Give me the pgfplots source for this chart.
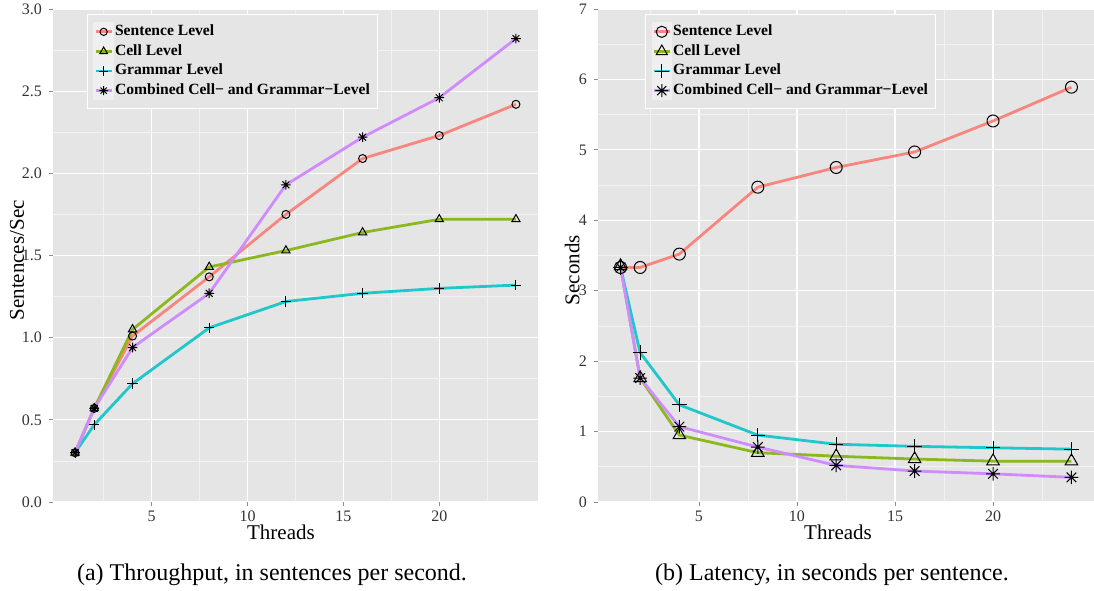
\documentclass[border=0pt]{standalone}
\usepackage{pgfplots}
\usepackage{pgfplotstable}
\pgfplotsset{compat=1.18}
\usepackage{fontspec}
\setmainfont{Liberation Serif}

\definecolor{panel}{HTML}{E5E5E5}
\definecolor{minorg}{HTML}{F2F2F2}
\definecolor{keybg}{HTML}{EFEFEF}
\definecolor{cS}{HTML}{F8766D}
\definecolor{cC}{HTML}{7CAE00}
\definecolor{cG}{HTML}{00BFC4}
\definecolor{cK}{HTML}{C77CFF}

\pgfdeclareplotmark{ast8}{%
  \pgfpathmoveto{\pgfqpoint{-\pgfplotmarksize}{0pt}}\pgfpathlineto{\pgfqpoint{\pgfplotmarksize}{0pt}}%
  \pgfpathmoveto{\pgfqpoint{0pt}{-\pgfplotmarksize}}\pgfpathlineto{\pgfqpoint{0pt}{\pgfplotmarksize}}%
  \pgfpathmoveto{\pgfqpoint{-.707\pgfplotmarksize}{-.707\pgfplotmarksize}}\pgfpathlineto{\pgfqpoint{.707\pgfplotmarksize}{.707\pgfplotmarksize}}%
  \pgfpathmoveto{\pgfqpoint{-.707\pgfplotmarksize}{.707\pgfplotmarksize}}\pgfpathlineto{\pgfqpoint{.707\pgfplotmarksize}{-.707\pgfplotmarksize}}%
  \pgfusepathqstroke}

% Throughput (sentences/sec)
\pgfplotstableread{
x   S     C     G     K
1   0.30  0.30  0.30  0.30
2   0.57  0.57  0.47  0.57
4   1.01  1.05  0.72  0.94
8   1.37  1.43  1.06  1.27
12  1.75  1.53  1.22  1.93
16  2.09  1.64  1.27  2.22
20  2.23  1.72  1.30  2.46
24  2.42  1.72  1.32  2.82
}\thr

% Latency (seconds)
\pgfplotstableread{
x   S     C     G     K
1   3.33  3.35  3.33  3.33
2   3.33  1.76  2.12  1.76
4   3.52  0.95  1.38  1.07
8   4.47  0.70  0.95  0.78
12  4.75  0.65  0.82  0.52
16  4.97  0.61  0.79  0.44
20  5.41  0.58  0.77  0.40
24  5.89  0.58  0.75  0.35
}\lat

\pgfplotsset{
  ggstyle/.style={
    scale only axis, height=246.5pt,
    axis background/.style={fill=panel},
    axis line style={draw=none},
    xmin=-0.15, xmax=25.15,
    xtick={5,10,15,20}, minor xtick={2.5,7.5,12.5,17.5,22.5},
    grid=both,
    major grid style={white, line width=0.6pt},
    minor grid style={minorg, line width=0.35pt},
    xtick pos=bottom, ytick pos=left, tick align=outside,
    major tick length=2pt, minor tick length=0pt,
    major tick style={black!45, line width=0.4pt},
    tick label style={font=\fontsize{8}{9.5}\selectfont, text=black!80},
    xticklabel style={yshift=1.2pt},
    /pgf/number format/assume math mode=true,
    label style={font=\fontsize{10.5}{12}\selectfont},
    xlabel=Threads,
    legend cell align=left,
    legend style={draw=white, fill=panel, line width=0.5pt,
      font=\bfseries\fontsize{7.8}{9}\selectfont, anchor=north west,
      inner xsep=3pt, inner ysep=3.8pt, row sep=0pt,
      nodes={inner sep=0.6pt, text height=5.6pt, text depth=2pt}},
    legend image code/.code={
      \fill[keybg] (0pt,-4.2pt) rectangle (8.8pt,4.2pt);
      \draw[mark repeat=2,mark phase=2,##1] plot coordinates {(0.4pt,0pt) (4.4pt,0pt) (8.4pt,0pt)};
    },
  },
  ln/.style={line width=1.4pt, #1!88!white, forget plot},
  mk/.style={only marks, mark=#1, forget plot, mark options={draw=black, fill=none, line width=0.5pt, solid}},
}

\begin{document}
\begin{tikzpicture}
\useasboundingbox (-26.5pt,-44pt) rectangle (520.5pt,251pt);

% ---------------- (a) Throughput
\begin{axis}[ggstyle, at={(0pt,0pt)}, anchor=south west, width=242.5pt,
  ymin=0, ymax=3, ytick={0,0.5,1,1.5,2,2.5,3}, minor ytick={0.25,0.75,1.25,1.75,2.25,2.75},
  yticklabel style={/pgf/number format/.cd, fixed, fixed zerofill, precision=1},
  ylabel={Sentences/Sec},
  ylabel style={at={(axis description cs:-0.074,0.49)}, anchor=center},
  xlabel style={at={(axis description cs:0.47,-0.0625)}, anchor=center},
  legend style={at={(axis description cs:0.070,0.99)}},
  mark size=2pt]
\addplot[ln=cS] table[x=x,y=S] {\thr};
\addplot[ln=cC] table[x=x,y=C] {\thr};
\addplot[ln=cG] table[x=x,y=G] {\thr};
\addplot[ln=cK] table[x=x,y=K] {\thr};
\addplot[mk=o] table[x=x,y=S] {\thr};
\addplot[mk=triangle, mark size=2.4pt] table[x=x,y=C] {\thr};
\addplot[mk=+, mark size=2.6pt] table[x=x,y=G] {\thr};
\addplot[mk=ast8, mark size=2.4pt] table[x=x,y=K] {\thr};
\addlegendimage{line width=1.4pt, cS!88!white, mark=o, mark size=1.8pt, mark options={draw=black, fill=none, line width=0.5pt, solid}}
\addlegendentry{Sentence Level}
\addlegendimage{line width=1.4pt, cC!88!white, mark=triangle, mark size=2.2pt, mark options={draw=black, fill=none, line width=0.5pt, solid}}
\addlegendentry{Cell Level}
\addlegendimage{line width=1.4pt, cG!88!white, mark=+, mark size=2.4pt, mark options={draw=black, fill=none, line width=0.5pt, solid}}
\addlegendentry{Grammar Level}
\addlegendimage{line width=1.4pt, cK!88!white, mark=ast8, mark size=2.2pt, mark options={draw=black, fill=none, line width=0.5pt, solid}}
\addlegendentry{Combined Cell− and Grammar−Level}
\end{axis}

% ---------------- (b) Latency
\begin{axis}[ggstyle, at={(272.5pt,0pt)}, anchor=south west, width=248pt,
  ymin=0, ymax=7, ytick={0,1,2,3,4,5,6,7}, minor ytick={0.5,1.5,2.5,3.5,4.5,5.5,6.5},
  ylabel={Seconds},
  ylabel style={at={(axis description cs:-0.052,0.47)}, anchor=center},
  xlabel style={at={(axis description cs:0.484,-0.0625)}, anchor=center},
  legend style={at={(axis description cs:0.095,0.99)}},
  mark size=3pt]
\addplot[ln=cS] table[x=x,y=S] {\lat};
\addplot[ln=cC] table[x=x,y=C] {\lat};
\addplot[ln=cG] table[x=x,y=G] {\lat};
\addplot[ln=cK] table[x=x,y=K] {\lat};
\addplot[mk=o] table[x=x,y=S] {\lat};
\addplot[mk=triangle, mark size=3.6pt] table[x=x,y=C] {\lat};
\addplot[mk=+, mark size=3.6pt] table[x=x,y=G] {\lat};
\addplot[mk=ast8, mark size=3.4pt] table[x=x,y=K] {\lat};
\addlegendimage{line width=1.4pt, cS!88!white, mark=o, mark size=2.8pt, mark options={draw=black, fill=none, line width=0.5pt, solid}}
\addlegendentry{Sentence Level}
\addlegendimage{line width=1.4pt, cC!88!white, mark=triangle, mark size=3.2pt, mark options={draw=black, fill=none, line width=0.5pt, solid}}
\addlegendentry{Cell Level}
\addlegendimage{line width=1.4pt, cG!88!white, mark=+, mark size=3.4pt, mark options={draw=black, fill=none, line width=0.5pt, solid}}
\addlegendentry{Grammar Level}
\addlegendimage{line width=1.4pt, cK!88!white, mark=ast8, mark size=3.2pt, mark options={draw=black, fill=none, line width=0.5pt, solid}}
\addlegendentry{Combined Cell− and Grammar−Level}
\end{axis}

\node[font=\fontsize{12}{14}\selectfont] at (109.5pt,-36.5pt) {(a) Throughput, in sentences per second.};
\node[font=\fontsize{12}{14}\selectfont] at (389.5pt,-36.5pt) {(b) Latency, in seconds per sentence.};
\end{tikzpicture}
\end{document}
